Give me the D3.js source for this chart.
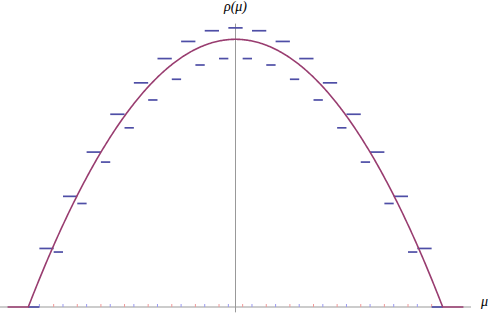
<!DOCTYPE html>
<html>
<head>
<meta charset="utf-8">
<script src="https://cdn.jsdelivr.net/npm/d3@7"></script>
<style>
  body { margin: 0; background: #fff; }
  text { font-family: "Liberation Serif", "DejaVu Serif", serif; font-style: italic; }
</style>
</head>
<body>
<div id="chart"></div>
<script>
// tick positions on the mu axis (blue / red markers)
const blueTicks = [-1.893, -1.665, -1.437, -1.209, -0.981, -0.753, -0.525, -0.297, -0.069,
                   0.159, 0.387, 0.615, 0.843, 1.071, 1.299, 1.527, 1.755];
const redTicks = [-1.755, -1.527, -1.299, -1.071, -0.843, -0.615, -0.387, -0.159, 0.069,
                  0.297, 0.525, 0.753, 0.981, 1.209, 1.437, 1.665, 1.893];

// level of each step, blue tick -> red tick
const longLevels = [0.082, 0.155, 0.217, 0.270, 0.314, 0.348, 0.372, 0.387, 0.391,
                    0.387, 0.372, 0.348, 0.314, 0.270, 0.217, 0.155, 0.082];
// level of each step, red tick -> next blue tick (ends reach the support edge)
const shortLevels = [0, 0.077, 0.145, 0.203, 0.251, 0.290, 0.319, 0.339, 0.348,
                     0.348, 0.339, 0.319, 0.290, 0.251, 0.203, 0.145, 0.077, 0];
const supportEdge = 2.0;
const curveRange = 2.2;
const peak = 0.375;

const width = 491, height = 326;

const svg = d3.select("#chart").append("svg")
    .attr("width", width)
    .attr("height", height);

const x = d3.scaleLinear().domain([-2.273, 2.273]).range([0, 471]);
const y = d3.scaleLinear().domain([0, peak]).range([307, 39.3]);

// axes
svg.append("line")
    .attr("x1", x(-2.273)).attr("x2", x(2.273))
    .attr("y1", y(0)).attr("y2", y(0))
    .attr("stroke", "#999").attr("stroke-width", 1);

svg.append("line")
    .attr("x1", x(0)).attr("x2", x(0))
    .attr("y1", y(0.397)).attr("y2", y(-0.0075))
    .attr("stroke", "#999").attr("stroke-width", 1);

// small tick markers
svg.selectAll(".blue-tick")
    .data(blueTicks)
    .enter()
    .append("line")
    .attr("class", "blue-tick")
    .attr("x1", d => x(d)).attr("x2", d => x(d))
    .attr("y1", y(0) - 3).attr("y2", y(0))
    .attr("stroke", "#9a9af0").attr("stroke-width", 1);

svg.selectAll(".red-tick")
    .data(redTicks)
    .enter()
    .append("line")
    .attr("class", "red-tick")
    .attr("x1", d => x(d)).attr("x2", d => x(d))
    .attr("y1", y(0) - 3).attr("y2", y(0))
    .attr("stroke", "#f09a9a").attr("stroke-width", 1);

// step segments
let segs = [];
longLevels.forEach(function(v, i){
    segs.push({ a: blueTicks[i], b: redTicks[i], v: v });
});
shortLevels.forEach(function(v, i){
    let a = i == 0 ? -supportEdge : redTicks[i - 1];
    let b = i == shortLevels.length - 1 ? supportEdge : blueTicks[i];
    segs.push({ a: a, b: b, v: v });
});

svg.selectAll(".step")
    .data(segs)
    .enter()
    .append("line")
    .attr("class", "step")
    .attr("x1", d => x(d.a)).attr("x2", d => x(d.b))
    .attr("y1", d => y(d.v)).attr("y2", d => y(d.v))
    .attr("stroke", "#4e4ea6").attr("stroke-width", 1.7);

// density curve
const curve = d3.range(-curveRange, curveRange + 1e-9, 0.01).map(function(m){
    let r = Math.abs(m) < supportEdge ? peak * (1 - m * m / (supportEdge * supportEdge)) : 0;
    return [m, r];
});

svg.append("path")
    .datum(curve)
    .attr("fill", "none")
    .attr("stroke", "#993d70")
    .attr("stroke-width", 1.6)
    .attr("d", d3.line().x(d => x(d[0])).y(d => y(d[1])));

// labels
svg.append("text")
    .attr("x", x(0))
    .attr("y", 11)
    .attr("text-anchor", "middle")
    .style("font-size", "14px")
    .text("ρ(μ)");

svg.append("text")
    .attr("x", 481)
    .attr("y", 306)
    .style("font-size", "14px")
    .text("μ");
</script>
</body>
</html>
